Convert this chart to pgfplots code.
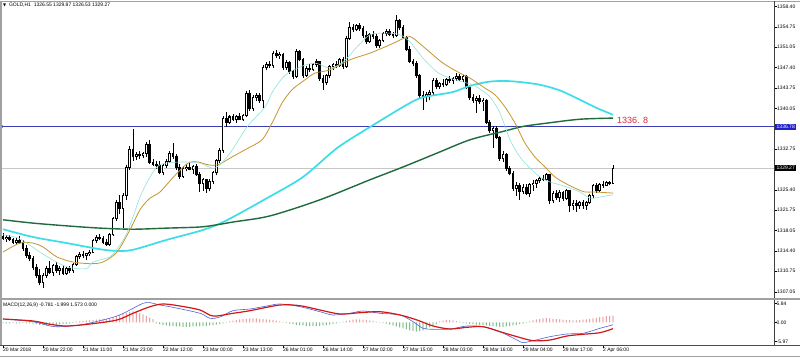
\documentclass[border=0pt]{standalone}
\usepackage{pgfplots}
\pgfplotsset{compat=1.18}
\usepackage{pgfplotstable}
\usepackage{fontspec}
\setmainfont{Liberation Sans}
\newfontfamily\dejavu{DejaVu Sans}
\definecolor{slowcyan}{HTML}{3CDDE8}
\definecolor{fastcyan}{HTML}{8FE3DD}
\definecolor{gold}{HTML}{C4962E}
\definecolor{dkgreen}{HTML}{1E6B3C}
\definecolor{hline}{HTML}{3C3CB4}
\definecolor{macdblue}{HTML}{5060D8}
\definecolor{macdred}{HTML}{D01818}
\definecolor{histred}{HTML}{E07070}
\definecolor{histgreen}{HTML}{3E9E50}
\definecolor{labred}{HTML}{D42A3C}
\definecolor{framegray}{HTML}{A0A0A0}
\definecolor{boxblue}{HTML}{2020C8}
\newcommand{\tinyfont}{\fontsize{5}{6}\selectfont}

\pgfplotstableread{
i o h l c
0 1317.0 1317.6 1316.3 1316.6
1 1316.6 1317.2 1316.0 1316.9
2 1316.9 1317.3 1316.2 1316.4
3 1316.4 1316.8 1315.6 1315.9
4 1315.9 1316.7 1315.5 1316.3
5 1316.3 1317.0 1315.7 1315.9
6 1315.9 1316.4 1314.4 1314.8
7 1314.8 1315.5 1313.2 1313.6
8 1313.6 1314.2 1312.5 1313.0
9 1313.0 1313.5 1311.0 1311.4
10 1311.4 1312.0 1309.6 1310.0
11 1310.0 1311.2 1308.2 1308.8
12 1308.8 1310.4 1307.7 1310.0
13 1310.0 1311.6 1309.5 1311.2
14 1311.2 1312.5 1310.2 1310.6
15 1310.6 1312.0 1309.9 1311.8
16 1311.8 1312.4 1310.5 1310.9
17 1310.9 1311.6 1310.0 1311.3
18 1311.3 1311.8 1310.1 1310.4
19 1310.4 1311.5 1310.1 1311.2
20 1311.2 1311.7 1310.4 1310.8
21 1310.8 1312.3 1310.5 1312.0
22 1312.0 1313.6 1311.7 1313.4
23 1313.4 1314.2 1312.9 1313.7
24 1313.7 1314.3 1313.2 1313.5
25 1313.5 1314.1 1312.8 1313.9
26 1313.9 1314.6 1313.4 1314.2
27 1314.2 1316.5 1314.0 1316.2
28 1316.2 1317.2 1315.8 1316.9
29 1316.9 1317.4 1316.3 1316.6
30 1316.6 1317.0 1315.7 1316.0
31 1316.0 1316.6 1315.2 1315.5
32 1315.5 1317.6 1315.3 1317.3
33 1317.3 1320.5 1317.0 1320.2
34 1320.2 1323.6 1319.8 1323.2
35 1323.2 1324.5 1321.0 1322.0
36 1322.0 1324.8 1318.5 1324.3
37 1324.3 1329.8 1323.5 1329.5
38 1329.5 1333.2 1329.0 1332.6
39 1332.6 1336.4 1330.6 1331.4
40 1331.4 1332.2 1330.8 1331.7
41 1331.7 1332.4 1331.0 1331.5
42 1331.5 1332.2 1331.1 1331.9
43 1331.9 1334.0 1331.3 1333.6
44 1333.6 1334.3 1330.0 1330.4
45 1330.4 1331.0 1329.6 1330.0
46 1330.0 1330.6 1329.2 1329.7
47 1329.7 1330.6 1328.2 1328.6
48 1328.6 1330.0 1328.0 1329.8
49 1329.8 1331.0 1329.4 1330.5
50 1330.5 1332.4 1330.2 1332.0
51 1332.0 1333.9 1331.0 1331.4
52 1331.4 1331.8 1329.0 1329.4
53 1329.4 1330.0 1327.3 1327.8
54 1327.8 1329.6 1327.5 1329.2
55 1329.2 1330.0 1328.7 1329.5
56 1329.5 1330.3 1328.9 1329.1
57 1329.1 1329.9 1328.3 1329.6
58 1329.6 1330.0 1327.8 1328.1
59 1328.1 1328.6 1325.0 1326.6
60 1326.6 1327.6 1325.2 1327.2
61 1327.2 1327.4 1324.9 1325.6
62 1325.6 1327.4 1325.1 1326.9
63 1326.9 1328.8 1326.5 1328.5
64 1328.5 1331.0 1328.0 1330.6
65 1330.6 1333.0 1330.2 1332.5
66 1332.5 1338.6 1332.1 1338.2
67 1338.2 1339.4 1336.7 1337.6
68 1337.6 1338.8 1337.2 1338.5
69 1338.5 1339.0 1337.8 1338.1
70 1338.1 1338.9 1337.5 1338.6
71 1338.6 1339.2 1337.9 1338.0
72 1338.0 1339.0 1337.7 1338.8
73 1338.8 1343.2 1338.5 1342.8
74 1342.8 1343.3 1339.6 1340.0
75 1340.0 1342.4 1339.6 1342.0
76 1342.0 1342.9 1341.3 1342.3
77 1342.3 1342.8 1341.0 1341.4
78 1341.4 1347.8 1340.1 1347.4
79 1347.4 1348.4 1346.9 1348.0
80 1348.0 1348.6 1347.3 1347.7
81 1347.7 1350.4 1347.4 1350.0
82 1350.0 1350.6 1349.2 1349.5
83 1349.5 1350.2 1349.0 1349.7
84 1349.7 1350.0 1347.0 1347.4
85 1347.4 1348.7 1347.0 1348.3
86 1348.3 1348.6 1346.2 1346.6
87 1346.6 1347.0 1345.4 1345.8
88 1345.8 1350.8 1345.5 1350.2
89 1350.2 1350.6 1348.5 1348.8
90 1348.8 1349.2 1345.6 1346.0
91 1346.0 1347.6 1345.7 1347.3
92 1347.3 1348.0 1346.6 1347.0
93 1347.0 1348.3 1346.8 1348.0
94 1348.0 1348.9 1347.5 1348.4
95 1348.4 1348.6 1345.0 1345.4
96 1345.4 1346.0 1343.4 1344.7
97 1344.7 1346.2 1344.3 1345.9
98 1345.9 1347.9 1345.5 1347.6
99 1347.6 1348.3 1346.9 1347.9
100 1347.9 1348.5 1347.3 1347.8
101 1347.8 1349.2 1347.5 1348.9
102 1348.9 1349.3 1347.2 1347.6
103 1347.6 1353.0 1347.3 1352.7
104 1352.7 1355.6 1352.3 1354.6
105 1354.6 1355.3 1353.8 1354.3
106 1354.3 1355.2 1353.9 1354.9
107 1354.9 1355.4 1354.0 1354.4
108 1354.4 1354.8 1352.8 1353.1
109 1353.1 1353.9 1351.7 1352.0
110 1352.0 1353.6 1351.8 1353.3
111 1353.3 1353.9 1352.6 1353.0
112 1353.0 1353.4 1351.0 1351.3
113 1351.3 1352.6 1350.9 1352.3
114 1352.3 1353.8 1352.0 1353.5
115 1353.5 1354.3 1353.0 1353.9
116 1353.9 1354.4 1353.1 1353.4
117 1353.4 1353.8 1352.8 1353.1
118 1353.1 1356.9 1352.9 1355.8
119 1355.8 1356.2 1354.2 1354.6
120 1354.6 1355.0 1352.5 1352.8
121 1352.8 1353.1 1350.4 1350.7
122 1350.7 1351.2 1348.2 1348.5
123 1348.5 1349.0 1347.6 1348.2
124 1348.2 1348.5 1345.6 1345.9
125 1345.9 1346.2 1342.0 1342.4
126 1342.4 1343.2 1339.8 1342.1
127 1342.1 1343.0 1341.2 1342.6
128 1342.6 1343.4 1341.5 1342.9
129 1342.9 1345.5 1342.5 1345.1
130 1345.1 1345.6 1343.6 1343.9
131 1343.9 1344.8 1343.5 1344.5
132 1344.5 1345.3 1343.9 1344.3
133 1344.3 1345.6 1344.0 1345.3
134 1345.3 1345.9 1344.7 1345.0
135 1345.0 1345.7 1344.4 1345.4
136 1345.4 1346.4 1345.0 1345.8
137 1345.8 1346.2 1344.9 1345.2
138 1345.2 1346.1 1344.8 1345.7
139 1345.7 1346.0 1343.5 1343.8
140 1343.8 1344.2 1341.6 1342.0
141 1342.0 1342.6 1341.0 1341.4
142 1341.4 1342.3 1339.2 1341.9
143 1341.9 1342.4 1340.8 1341.2
144 1341.2 1341.9 1339.6 1341.5
145 1341.5 1341.8 1337.2 1337.6
146 1337.6 1337.9 1335.7 1336.0
147 1336.0 1336.9 1332.9 1336.4
148 1336.4 1336.8 1334.5 1334.8
149 1334.8 1335.1 1330.6 1331.0
150 1331.0 1332.3 1330.4 1331.8
151 1331.8 1332.0 1328.8 1329.2
152 1329.2 1329.6 1328.0 1328.4
153 1328.4 1328.7 1325.2 1325.6
154 1325.6 1326.8 1324.3 1326.2
155 1326.2 1326.6 1323.6 1325.1
156 1325.1 1326.4 1324.6 1325.9
157 1325.9 1326.5 1324.4 1324.8
158 1324.8 1326.7 1324.1 1326.3
159 1326.3 1327.1 1325.2 1326.6
160 1326.6 1327.4 1325.8 1327.1
161 1327.1 1327.8 1326.6 1327.4
162 1327.4 1328.0 1326.9 1327.2
163 1327.2 1328.4 1327.0 1328.1
164 1328.1 1328.3 1322.9 1323.4
165 1323.4 1325.2 1323.0 1324.8
166 1324.8 1325.4 1323.6 1324.0
167 1324.0 1325.3 1323.2 1324.9
168 1324.9 1325.1 1323.4 1323.9
169 1323.9 1325.5 1323.6 1325.2
170 1325.2 1325.4 1321.4 1322.6
171 1322.6 1323.5 1321.7 1323.0
172 1323.0 1323.6 1321.4 1322.5
173 1322.5 1323.4 1321.9 1323.1
174 1323.1 1323.6 1322.0 1322.6
175 1322.6 1323.4 1321.8 1323.2
176 1323.2 1324.6 1322.9 1324.3
177 1324.3 1326.5 1324.0 1326.2
178 1326.2 1326.6 1324.9 1325.3
179 1325.3 1326.7 1325.0 1326.4
180 1326.4 1326.9 1325.8 1326.2
181 1326.2 1327.0 1326.0 1326.7
182 1326.7 1327.0 1326.2 1326.55
183 1326.55 1329.87 1326.53 1329.27
}\candles

\pgfplotstableread[row sep=\\]{
i v\\
0 -0.2\\ 1 -0.3\\ 2 -0.3\\ 3 -0.2\\ 4 -0.3\\ 5 -0.3\\ 6 -0.2\\ 7 -0.3\\ 8 -0.3\\
9 -0.4\\ 10 -0.6\\ 11 -0.8\\ 12 -0.9\\ 13 -1.0\\ 14 -0.9\\ 15 -0.8\\ 16 -0.7\\ 17 -0.6\\ 18 -0.5\\ 19 -0.4\\ 20 -0.3\\ 21 -0.2\\
22 0.2\\ 23 0.3\\ 24 0.4\\ 25 0.5\\ 26 0.6\\ 27 0.7\\ 28 0.8\\ 29 0.9\\ 30 1.0\\ 31 1.1\\ 32 1.2\\
33 1.5\\ 34 1.9\\ 35 2.3\\ 36 2.7\\ 37 3.0\\ 38 3.3\\ 39 3.4\\ 40 3.2\\ 41 2.9\\ 42 2.5\\ 43 2.0\\ 44 1.5\\ 45 1.0\\
46 -0.3\\ 47 -0.6\\ 48 -0.8\\ 49 -1.0\\ 50 -1.1\\ 51 -1.2\\ 52 -1.3\\ 53 -1.3\\ 54 -1.4\\ 55 -1.4\\ 56 -1.4\\ 57 -1.3\\ 58 -1.3\\ 59 -1.2\\ 60 -1.2\\ 61 -1.1\\ 62 -1.0\\ 63 -0.9\\ 64 -0.7\\ 65 -0.5\\ 66 -0.3\\ 67 -0.1\\
68 0.3\\ 69 0.5\\ 70 0.7\\ 71 0.9\\ 72 1.0\\ 73 1.1\\ 74 1.2\\ 75 1.25\\ 76 1.2\\ 77 1.1\\ 78 1.0\\ 79 0.9\\ 80 0.8\\ 81 0.7\\ 82 0.5\\ 83 0.3\\ 84 0.1\\
85 -0.2\\ 86 -0.4\\ 87 -0.6\\ 88 -0.8\\ 89 -0.9\\ 90 -1.0\\ 91 -1.1\\ 92 -1.2\\ 93 -1.2\\ 94 -1.2\\ 95 -1.1\\ 96 -1.0\\ 97 -0.9\\ 98 -0.7\\ 99 -0.5\\ 100 -0.3\\ 101 -0.1\\
102 0.2\\ 103 0.4\\ 104 0.6\\ 105 0.8\\ 106 0.9\\ 107 0.9\\ 108 0.8\\ 109 0.7\\ 110 0.5\\ 111 0.4\\ 112 0.2\\ 113 0.1\\
114 -0.2\\ 115 -0.4\\ 116 -0.7\\ 117 -1.0\\ 118 -1.3\\ 119 -1.6\\ 120 -1.9\\ 121 -2.2\\ 122 -2.5\\ 123 -2.7\\ 124 -2.9\\ 125 -2.8\\ 126 -2.5\\ 127 -2.1\\ 128 -1.6\\ 129 -1.1\\ 130 -0.6\\
131 0.3\\ 132 0.5\\ 133 0.7\\ 134 0.7\\ 135 0.6\\ 136 0.4\\ 137 0.2\\
138 -0.2\\ 139 -0.3\\ 140 -0.5\\ 141 -0.6\\ 142 -0.7\\ 143 -0.8\\ 144 -0.9\\ 145 -1.0\\ 146 -1.1\\ 147 -1.2\\ 148 -1.3\\ 149 -1.4\\ 150 -1.4\\ 151 -1.3\\ 152 -1.2\\ 153 -1.0\\ 154 -0.8\\ 155 -0.6\\ 156 -0.4\\ 157 -0.2\\
158 0.3\\ 159 0.6\\ 160 0.9\\ 161 1.1\\ 162 1.2\\ 163 1.3\\ 164 1.2\\ 165 1.1\\ 166 1.0\\ 167 0.9\\ 168 0.8\\ 169 0.7\\ 170 0.7\\ 171 0.6\\ 172 0.6\\ 173 0.7\\ 174 0.8\\ 175 0.9\\ 176 1.0\\ 177 1.2\\ 178 1.4\\ 179 1.6\\ 180 1.8\\ 181 1.9\\ 182 2.0\\ 183 2.1\\
}\hist

\begin{document}
\begin{tikzpicture}
\useasboundingbox (0pt,0pt) rectangle (800pt,357pt);
\fill[white] (0pt,0pt) rectangle (800pt,357pt);

% ---------------- main price panel ----------------
\begin{axis}[
  at={(2pt,60pt)}, anchor=south west, width=772pt, height=295pt, scale only axis,
  xmin=-0.3, xmax=231.3, ymin=1306.10, ymax=1359.20,
  axis line style={draw=none},
  xtick=\empty,
  ytick={1307.05,1310.75,1314.40,1318.05,1321.75,1325.40,1332.75,1340.05,1343.75,1347.40,1351.05,1354.75,1358.40},
  yticklabels={1307.05,1310.75,1314.40,1318.05,1321.75,1325.40,1332.75,1340.05,1343.75,1347.40,1351.05,1354.75,1358.40},
  ytick pos=right, yticklabel pos=right,
  tick align=outside, major tick length=3pt,
  tick style={black, line width=0.4pt},
  yticklabel style={font=\tinyfont, anchor=west, inner sep=0pt},
  clip mode=individual,
]
\addplot[black!22, line width=0.5pt] coordinates {(-0.3,1329.27) (231.3,1329.27)};
\addplot[hline, line width=1.1pt] coordinates {(-0.3,1336.78) (231.3,1336.78)};
\addplot[hline, only marks, mark=*, mark size=1.1pt] coordinates {(-0.3,1336.78)};

% wicks
\addplot[draw=none, mark=none,
  error bars/.cd, y dir=plus, y explicit, error mark=none,
  error bar style={draw=black, line width=0.55pt}]
  table[x=i, y=l, y error expr=\thisrow{h}-\thisrow{l}] {\candles};
% all bodies in black (slightly padded so that a doji is a short bar)
\addplot[draw=none, mark=none,
  error bars/.cd, y dir=plus, y explicit, error mark=none,
  error bar style={draw=black, line width=2.8pt}]
  table[x=i, y expr={min(\thisrow{o},\thisrow{c})-0.09}, y error expr={abs(\thisrow{c}-\thisrow{o})+0.18}] {\candles};
% white inside of the rising candles
\addplot[draw=none, mark=none,
  error bars/.cd, y dir=plus, y explicit, error mark=none,
  error bar style={draw=white, line width=1.0pt}]
  table[x=i, y expr={\thisrow{o}+0.09}, y error expr={max(\thisrow{c}-\thisrow{o}-0.18,0)}] {\candles};

\addplot[slowcyan, line width=1.7pt, smooth] coordinates {
(0,1318.3) (9,1316.9) (19.2,1315.8) (29.1,1314.7) (34.2,1314.4) (39,1314.6) (49.2,1316.4) (59.1,1318.0) (64.2,1319.1) (69,1320.5) (79.2,1323.9) (90,1327.7) (100.2,1332.9) (110.1,1336.7) (120,1340.3) (125.1,1341.9) (130.2,1342.5) (135,1343.0) (140.1,1344.1) (145.2,1344.8) (150,1345.0) (155.1,1344.8) (161.1,1344.3) (167,1343.3) (173.1,1341.6) (178.2,1340.1) (183,1338.9)};
\addplot[dkgreen, line width=1.4pt, smooth] coordinates {
(0,1320.0) (9,1319.4) (19.2,1318.9) (29.1,1318.5) (39,1318.3) (49.2,1318.5) (59.1,1318.7) (64.2,1319.1) (69,1319.6) (80.1,1320.7) (95.1,1323.6) (110.1,1327.2) (120,1329.5) (130.2,1332.0) (140.1,1334.4) (150,1335.9) (156,1336.8) (163.2,1337.4) (173.1,1338.1) (183,1338.3)};
\addplot[gold, line width=0.8pt, smooth] coordinates {
(0,1314.2) (5.1,1315.8) (9,1315.8) (12,1315.1) (16.2,1313.3) (21,1312.4) (26.1,1312.1) (30,1312.4) (34.2,1314.2) (38.1,1318.2) (41.1,1321.8) (44.1,1323.9) (47.1,1325.0) (51.6,1328.0) (55.5,1330.2) (58.5,1330.4) (61.5,1329.9) (64.5,1329.9) (68.7,1331.3) (72.6,1332.6) (77.7,1334.4) (80.7,1337.4) (83.7,1341.0) (86.7,1343.4) (90.6,1345.2) (93.6,1346.4) (98.1,1347.0) (104.1,1348.8) (110.1,1350.0) (116.1,1351.5) (121.2,1352.9) (123,1352.7) (127.2,1350.6) (132,1348.2) (137.1,1346.4) (140.1,1345.5) (144.6,1343.7) (147.6,1342.5) (150.6,1340.3) (153.6,1337.4) (156.6,1333.8) (159.6,1331.3) (162.6,1329.5) (165.6,1327.7) (168.6,1326.6) (171.6,1325.7) (174.6,1325.0) (177.6,1325.0) (183,1324.8)};
\addplot[fastcyan, line width=0.6pt, smooth] coordinates {
(0,1317.3) (5,1316.6) (11,1314.2) (16,1312.4) (20,1311.4) (25,1311.2) (27,1312.4) (32,1313.3) (34,1314.6) (36.6,1316.9) (39,1320.5) (41.1,1324.1) (44.1,1327.7) (47.1,1329.9) (53.1,1330.4) (59.1,1330.2) (63.6,1329.3) (68.1,1332.0) (73.2,1336.7) (78.6,1340.3) (81,1343.2) (84.6,1346.0) (89.1,1347.5) (93.6,1348.2) (98.1,1347.3) (102,1348.4) (106.2,1351.1) (110.1,1353.3) (115.2,1353.6) (119.1,1353.3) (122.1,1352.0) (126,1349.1) (130.2,1346.6) (134.1,1345.5) (138,1344.8) (141.6,1344.1) (146.1,1342.1) (149.1,1339.2) (152.1,1334.4) (155.1,1331.3) (158.1,1329.3) (161.1,1327.7) (164.1,1326.8) (167.1,1326.3) (170.1,1325.7) (173.1,1325.0) (176.1,1323.9) (179.1,1324.1) (183,1324.5)};

\node[anchor=west, text=labred, font=\fontsize{9}{10}\selectfont, inner sep=0pt] at (axis cs:184.2,1337.95) {1336. 8};
\node[anchor=west, fill=boxblue, text=white, font=\tinyfont, inner xsep=1.5pt, inner ysep=1.2pt, xshift=1pt] at (axis cs:231.3,1336.78) {1336.78};
\node[anchor=west, fill=black, text=white, font=\tinyfont, inner xsep=1.5pt, inner ysep=1.2pt, xshift=1pt] at (axis cs:231.3,1329.27) {1329.27};
\end{axis}

% ---------------- MACD panel ----------------
\begin{axis}[
  at={(2pt,12pt)}, anchor=south west, width=772pt, height=45pt, scale only axis,
  xmin=-0.3, xmax=231.3, ymin=-7.12, ymax=6.99,
  axis line style={draw=none},
  ytick={-5.97,0,5.84}, yticklabels={-5.97,0.00,5.84},
  ytick pos=right, yticklabel pos=right,
  xtick={0,12,24,36,48,60,72,84,96,108,120,132,144,156,168,180},
  xticklabels={20 Mar 2018,20 Mar 22:00,21 Mar 11:00,21 Mar 23:00,22 Mar 12:00,23 Mar 00:00,23 Mar 13:00,26 Mar 01:00,26 Mar 14:00,27 Mar 02:00,27 Mar 15:00,28 Mar 03:00,28 Mar 16:00,29 Mar 04:00,29 Mar 17:00,2 Apr 06:00},
  xtick pos=bottom,
  tick align=outside, major tick length=2.5pt,
  tick style={black, line width=0.4pt},
  yticklabel style={font=\tinyfont, anchor=west, inner sep=0pt},
  xticklabel style={font=\tinyfont, anchor=north west, inner sep=0pt},
  clip mode=individual,
]
\addplot[ybar, bar width=0.7pt, bar shift=0pt, draw=none, fill=histred, restrict y to domain=0:10] table[x=i, y=v] {\hist};
\addplot[ybar, bar width=0.7pt, bar shift=0pt, draw=none, fill=histgreen, restrict y to domain=-10:0] table[x=i, y=v] {\hist};
\addplot[macdblue, line width=0.6pt, smooth] coordinates {
(0,1.03) (9,0.19) (14.1,-1.16) (17.1,-1.38) (23.1,-0.85) (29.1,0.50) (34.2,1.97) (38.1,3.86) (42,5.96) (44.1,6.14) (47.1,5.42) (51,4.70) (59.1,2.82) (62.1,1.25) (65.1,1.66) (69,3.64) (74.1,4.17) (79.2,5.11) (83.1,5.74) (89.1,4.89) (95.1,3.32) (99,2.29) (104.1,2.82) (108,3.54) (113.1,2.82) (119.1,2.29) (123,0.19) (126,-1.88) (129,-2.19) (134.1,-2.10) (139.2,-1.16) (144,-1.38) (149.1,-2.95) (154.2,-5.55) (156,-6.39) (159,-5.77) (164.1,-4.51) (169.2,-3.67) (174,-3.45) (179.1,-1.88) (183,-0.78)};
\addplot[macdred, line width=1.2pt, smooth] coordinates {
(0,1.03) (9,0.41) (14.1,-0.63) (19.2,-1.16) (26.1,-0.53) (34.2,0.72) (39,2.82) (44.1,4.89) (48,5.74) (53.1,5.11) (59.1,3.86) (63,1.97) (69,2.82) (74.1,3.64) (83.1,5.42) (89.1,5.20) (95.1,3.86) (101.1,2.60) (107.1,3.01) (113.1,3.32) (119.1,2.29) (124.2,0.72) (129,-1.16) (134.1,-2.10) (139.2,-1.57) (144,-1.38) (149.1,-2.95) (154.2,-4.51) (159,-5.77) (164.1,-5.55) (169.2,-4.29) (174,-3.76) (179.1,-3.26) (183,-2.00)};
\end{axis}

% ---------------- frame and texts ----------------
\draw[framegray, line width=1pt] (0pt,355.5pt) -- (800pt,355.5pt);
\draw[framegray, line width=1.6pt] (1pt,12pt) -- (1pt,356pt);
\draw[black!75, line width=0.6pt] (774pt,12pt) -- (774pt,355.5pt);
\draw[framegray, line width=2pt] (0pt,58.5pt) -- (800pt,58.5pt);
\draw[black!70, line width=0.6pt] (0pt,12pt) -- (800pt,12pt);
\draw[framegray, line width=0.8pt] (0pt,1pt) -- (800pt,1pt);

\node[anchor=west, font=\tinyfont, inner sep=0pt] at (3pt,352pt) {{\dejavu\fontsize{4}{5}\selectfont ▼}\ \ GOLD,H1\ \ 1326.55 1329.87 1326.53 1329.27};
\node[anchor=west, font=\tinyfont, inner sep=0pt] at (3pt,52pt) {MACD(12,26,9) -0.781 -1.999 1.573 0.000};
\end{tikzpicture}
\end{document}
